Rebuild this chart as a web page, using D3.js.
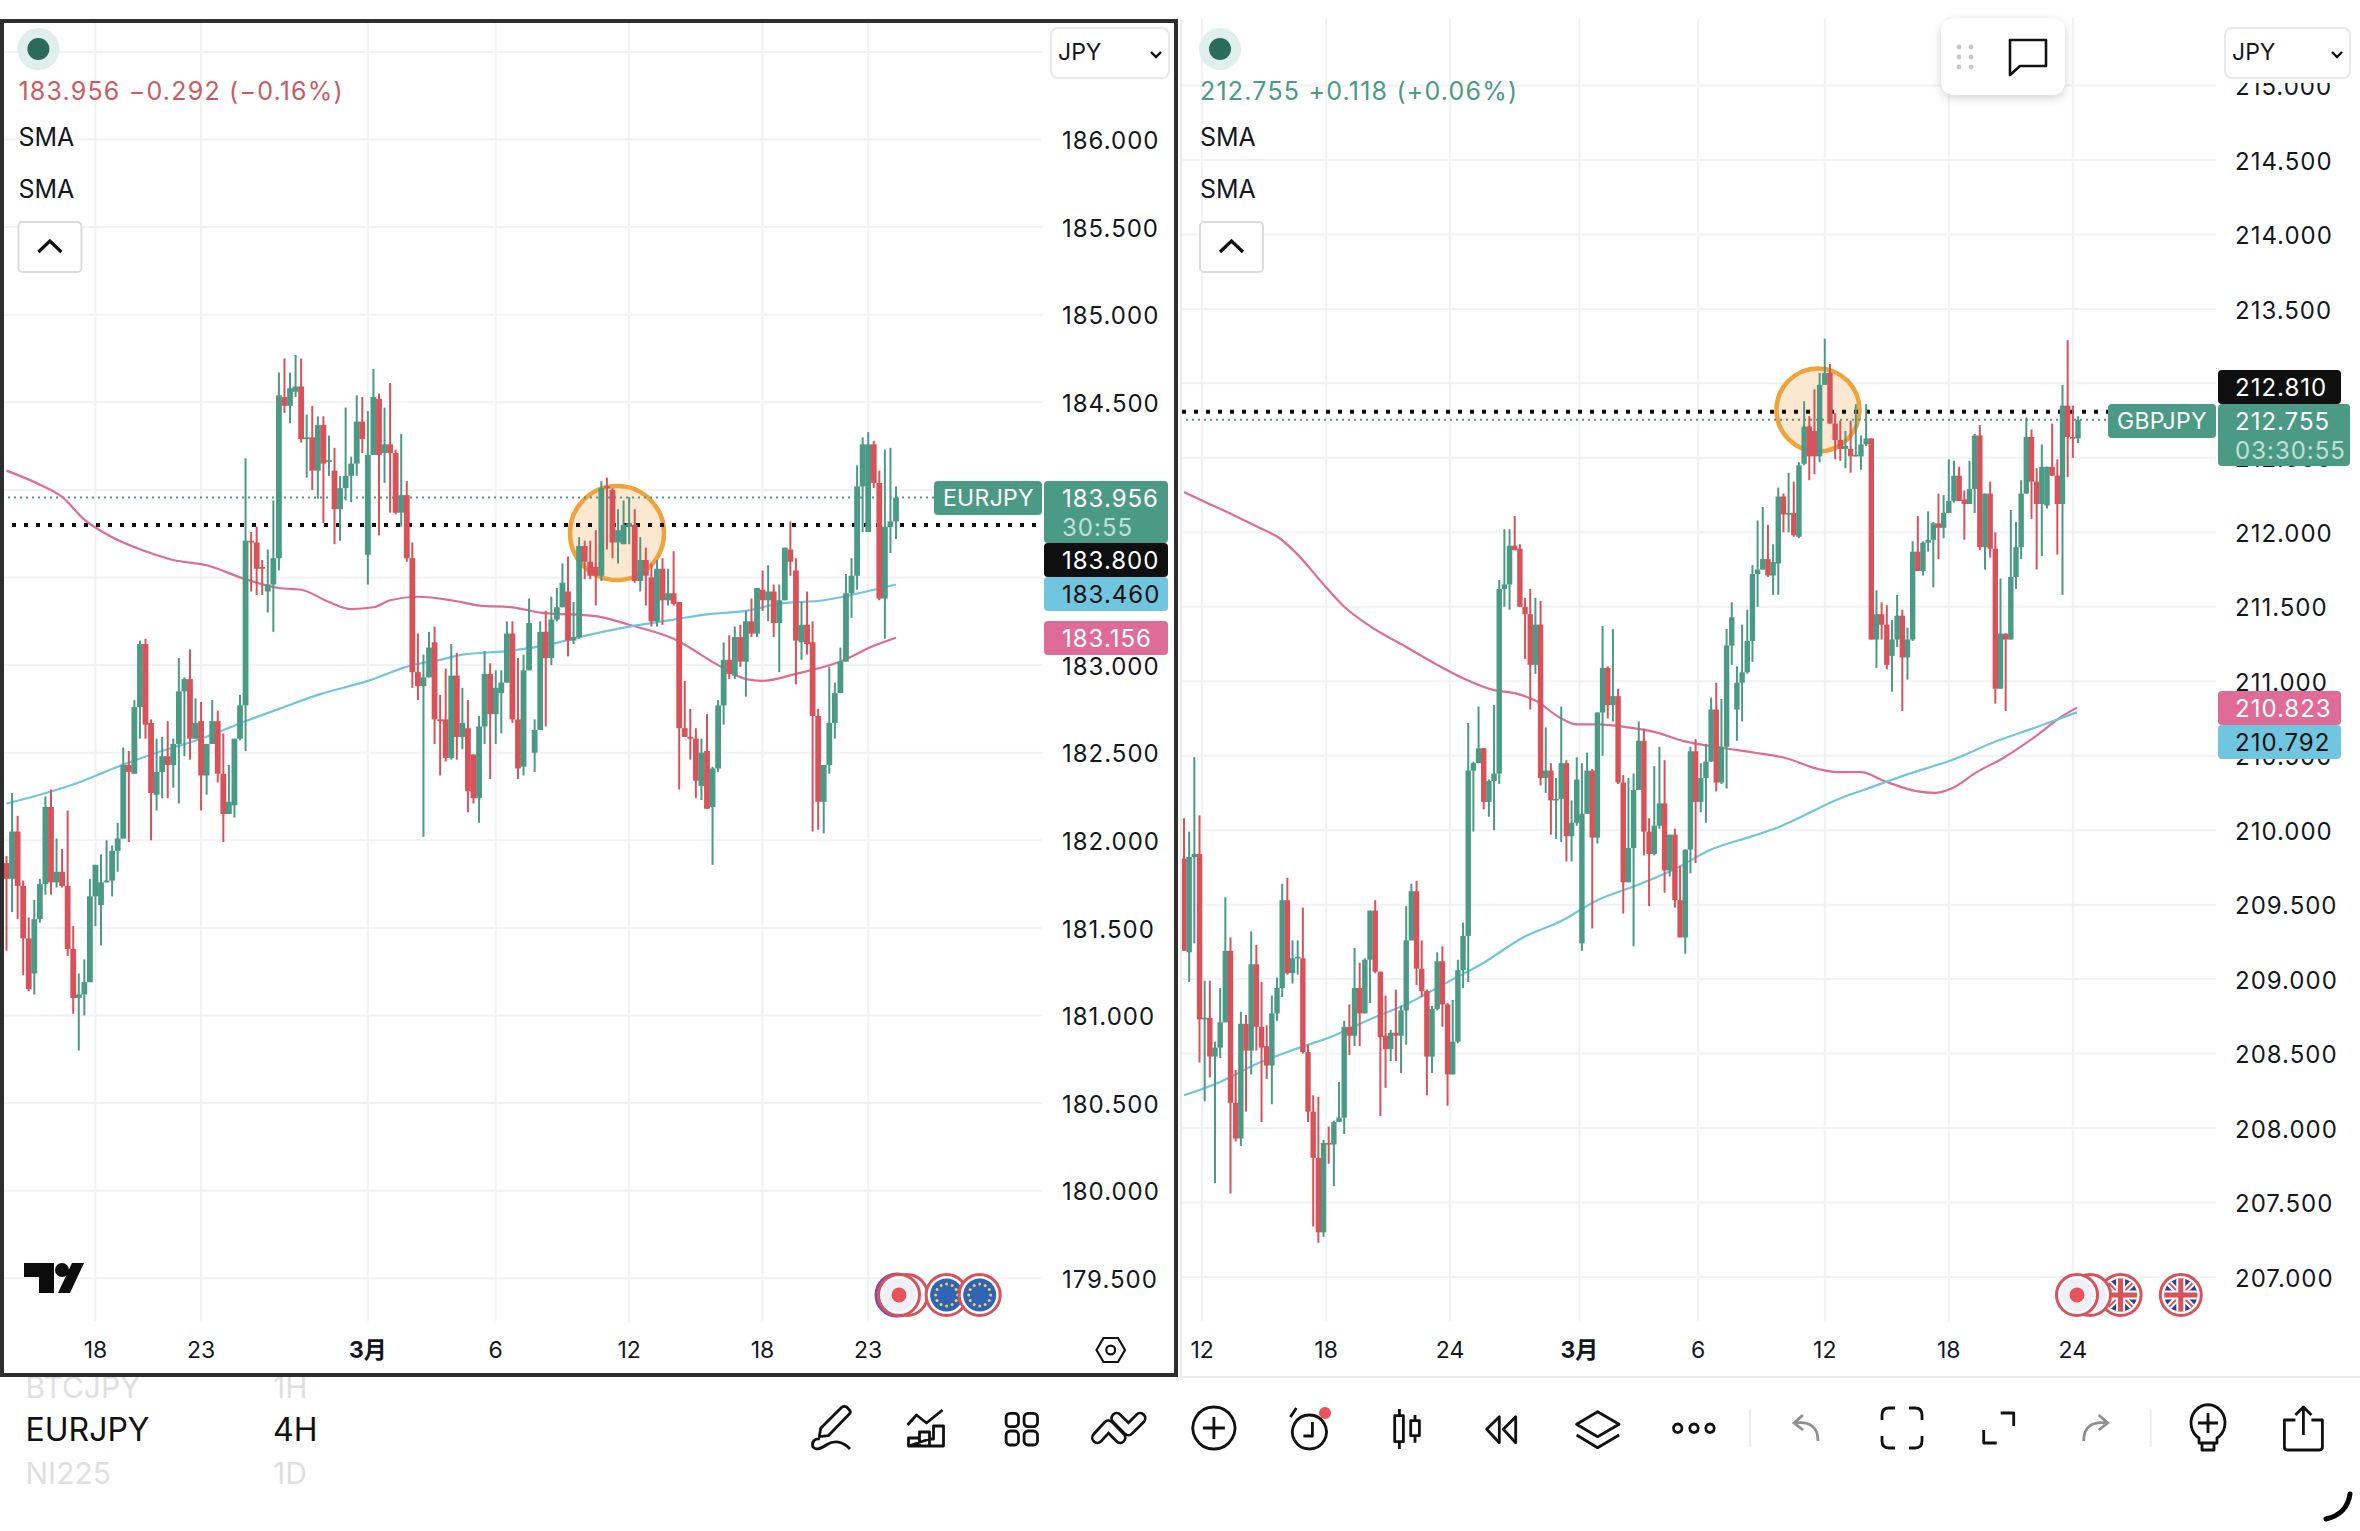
<!DOCTYPE html>
<html><head><meta charset="utf-8">
<script src="https://cdnjs.cloudflare.com/ajax/libs/d3/7.8.5/d3.min.js"></script>
<style>html,body{margin:0;padding:0;background:#fff}svg{display:block}text{font-family:Inter,"Noto Sans CJK JP",sans-serif}</style>
</head><body><svg id="c" width="2360" height="1531"></svg>
<script>
const eurOpen=[181.87,181.78,182.05,181.74,181.44,181.24,181.55,181.75,182.19,181.76,
181.82,181.74,181.38,181.10,181.12,181.19,181.68,181.63,181.76,181.77,
181.94,182.01,182.43,182.38,182.76,183.12,182.67,182.26,182.39,182.48,
182.43,182.55,182.85,182.92,182.58,182.68,182.37,182.55,182.68,182.38,
182.15,182.20,182.58,182.77,183.71,183.70,183.56,183.42,183.46,183.61,
184.53,184.48,184.56,184.59,184.29,184.30,184.11,184.37,184.16,184.11,
183.89,184.01,184.08,184.15,184.39,183.63,184.20,184.52,184.21,184.26,
184.21,183.87,183.97,183.61,182.96,182.88,182.93,183.13,182.69,182.69,
182.47,182.94,182.59,182.64,182.49,182.24,182.65,182.95,182.72,182.84,
182.90,183.18,182.69,182.42,182.97,182.50,182.63,183.19,183.04,183.26,
183.33,183.42,183.14,183.16,
183.68,183.59,183.56,183.51,184.02,184.00,183.70,183.69,183.79,183.80,
183.48,183.60,183.50,183.25,183.55,183.37,183.41,183.36,182.64,182.59,
182.58,182.31,182.51,182.19,182.41,182.77,183.03,182.94,183.16,183.02,
183.25,183.18,183.43,183.37,183.42,183.24,183.37,183.66,183.54,183.13,
183.23,183.13,182.71,182.22,182.43,182.67,182.84,183.02,183.41,183.51,
184.02,183.76,184.26,184.04,183.38,183.79,183.82];
const eurHigh=[181.91,182.27,182.14,181.77,181.56,181.66,181.78,182.25,182.29,182.01,
181.95,182.17,181.51,181.24,181.32,181.78,181.86,181.92,182.00,181.97,
182.10,182.53,182.51,182.80,183.14,183.15,182.69,182.58,182.59,182.68,
182.58,183.04,182.93,183.09,182.81,182.79,182.55,182.80,182.74,182.61,
182.43,182.58,182.83,184.18,183.76,183.79,183.60,183.66,183.94,184.67,
184.75,184.67,184.77,184.75,184.43,184.48,184.42,184.42,184.31,184.24,
184.08,184.47,184.19,184.54,184.53,184.45,184.69,184.55,184.47,184.61,
184.23,184.32,184.05,183.70,183.18,183.06,183.19,183.22,182.83,182.98,
183.12,183.07,182.87,182.80,182.49,182.71,183.08,183.01,182.97,182.97,
183.25,183.25,183.04,183.06,183.38,182.69,183.25,183.31,183.39,183.44,
183.58,183.62,183.36,183.73,
183.71,183.71,183.77,184.05,184.07,184.01,183.89,183.94,183.96,183.89,
183.73,183.67,183.58,183.60,183.61,183.55,183.65,183.36,182.91,182.75,
182.64,182.58,182.72,182.42,182.80,183.13,183.17,183.22,183.23,183.31,
183.38,183.44,183.54,183.57,183.46,183.46,183.67,183.82,183.61,183.36,
183.42,183.25,182.75,182.43,182.99,182.90,183.10,183.52,183.61,184.14,
184.30,184.33,184.28,184.11,184.23,184.24,184.02];
const eurLow=[181.37,181.59,181.55,181.23,181.14,181.12,181.53,181.69,181.69,181.73,
181.73,181.34,181.01,180.80,181.00,181.19,181.51,181.40,181.76,181.68,
181.82,182.01,181.99,182.38,182.58,182.58,182.00,182.17,182.24,182.24,
182.30,182.21,182.48,182.46,182.58,182.17,182.26,182.55,182.33,181.99,
182.15,182.13,182.57,182.51,183.42,183.40,183.40,183.30,183.19,183.54,
184.44,184.38,184.53,184.27,184.07,184.00,183.95,183.81,184.08,183.69,
183.71,183.94,183.93,184.08,184.21,183.46,184.20,183.74,184.04,183.87,
183.86,183.79,183.59,182.87,182.80,182.02,182.93,182.55,182.37,182.45,
182.46,182.46,182.52,182.16,182.21,182.10,182.55,182.35,182.55,182.61,
182.90,182.67,182.35,182.37,182.97,182.39,182.63,182.65,183.00,183.25,
183.33,183.05,183.12,183.15,
183.49,183.49,183.34,183.48,183.66,183.61,183.58,183.69,183.69,183.47,
183.42,183.34,183.22,183.22,183.23,183.34,183.34,182.29,182.59,182.46,
182.24,182.23,182.18,181.86,182.39,182.66,182.92,182.92,182.99,182.82,
183.16,183.16,183.31,183.25,183.16,182.96,183.37,183.51,182.89,183.03,
183.06,182.05,182.06,182.04,182.38,182.58,182.84,183.02,183.27,183.43,
183.76,183.76,184.01,183.37,183.15,183.64,183.72];
const eurClose=[181.78,182.05,181.74,181.44,181.15,181.55,181.75,182.19,181.76,181.82,
181.74,181.38,181.10,181.12,181.19,181.68,181.86,181.76,181.77,181.94,
182.01,182.43,182.39,182.76,183.12,182.66,182.27,182.39,182.48,182.43,
182.55,182.85,182.92,182.58,182.67,182.37,182.55,182.68,182.38,182.15,
182.22,182.58,182.77,183.71,183.70,183.55,183.55,183.46,183.61,184.54,
184.48,184.58,184.59,184.29,184.30,184.11,184.37,184.15,184.17,183.89,
184.01,184.08,184.15,184.39,184.29,184.20,184.53,184.20,184.26,184.21,
183.87,183.97,183.61,182.96,182.88,182.93,183.10,182.69,182.68,182.47,
182.94,182.59,182.67,182.28,182.24,182.65,182.95,182.72,182.87,182.90,
183.18,182.69,182.41,182.97,183.24,182.63,183.19,183.04,183.26,183.33,
183.47,183.14,183.16,183.68,
183.59,183.51,183.51,184.01,184.01,183.70,183.77,183.80,183.81,183.48,
183.60,183.51,183.25,183.55,183.37,183.41,183.35,182.64,182.59,182.58,
182.34,182.50,182.18,182.41,182.77,183.03,182.95,183.16,183.02,183.25,
183.18,183.44,183.37,183.42,183.24,183.37,183.67,183.59,183.14,183.23,
183.12,182.71,182.22,182.43,182.67,182.84,183.02,183.41,183.51,184.02,
184.26,184.26,184.04,183.38,183.79,183.82,183.956];
const eurPinkIdx=[0,6,10,14,19,25,30,36,43,49,53,58,62,66,69,74,80,85,91,96,106,112,120,128,133,136,142,150,156,160];
const eurPink=[184.11,184.03,183.96,183.83,183.73,183.65,183.60,183.57,183.49,183.44,183.43,183.36,183.32,183.33,183.37,183.39,183.37,183.34,183.33,183.30,183.28,183.23,183.15,183.00,182.92,182.91,182.95,183.02,183.11,183.156];
const eurBlueIdx=[0,6,13,20,27,35,43,49,56,65,73,78,82,90,98,103,112,120,126,133,139,147,156,160];
const eurBlue=[182.21,182.26,182.33,182.42,182.50,182.58,182.68,182.75,182.83,182.91,183.00,183.03,183.06,183.08,183.12,183.16,183.22,183.26,183.29,183.31,183.35,183.37,183.43,183.46];
const eurTickIdx=[16,35,65,88,112,136,155];
const eurTickLabels=["18","23","3月","6","12","18","23"];
const eurPriceTicks=[186,185.5,185,184.5,184,183.5,183,182.5,182,181.5,181,180.5,180,179.5];
const eurPriceLabels=[186,185.5,185,184.5,183,182.5,182,181.5,181,180.5,180,179.5];

const gbpOpen=[209.81,209.18,209.82,209.84,208.73,208.74,208.48,208.54,208.71,209.19,
208.17,207.93,208.70,208.52,209.10,208.68,208.55,208.42,208.77,208.94,
209.53,209.04,209.14,209.14,208.51,208.11,207.80,207.30,207.90,207.89,
208.04,208.07,208.68,208.62,208.94,208.77,209.13,209.46,209.05,208.62,
208.53,208.64,208.62,208.79,209.26,209.59,209.07,208.92,208.48,208.80,
209.12,208.83,208.36,208.58,209.06,209.29,210.40,210.45,210.55,210.19,
210.33,210.38,211.62,211.65,211.91,211.89,211.50,211.45,211.11,211.38,
210.35,210.40,210.20,210.21,210.45,209.96,210.05,209.24,210.11,210.40,
209.95,210.79,211.09,210.84,210.90,210.32,209.65,209.88,210.27,210.60,
209.99,209.84,210.03,210.18,209.73,209.97,209.53,209.28,209.87,210.53,
210.19,210.35,210.46,210.81,210.32,210.56,211.24,210.81,210.99,211.06,
211.27,211.72,211.75,211.82,211.71,211.79,212.24,212.12,212.13,211.97,
212.46,212.71,212.68,212.51,212.99,213.07,212.73,212.62,212.56,212.56,
212.51,212.51,212.59,212.63,211.28,211.45,211.38,211.17,211.28,211.44,
211.16,211.28,211.87,211.74,211.93,211.95,212.06,212.03,212.13,212.21,
212.38,212.22,212.19,212.29,212.65,211.90,212.26,211.89,210.95,211.32,
211.28,211.70,211.90,212.26,212.64,212.34,212.19,212.18,212.44,212.38,
212.19,212.85,212.64,212.63];
const gbpHigh=[210.08,209.99,210.49,210.10,208.99,208.99,208.58,208.94,209.55,209.28,
208.39,208.78,208.76,209.32,209.23,208.98,208.69,208.89,209.01,209.64,
209.68,209.26,209.26,209.48,208.56,208.22,208.21,207.92,208.01,208.05,
208.31,208.72,208.83,209.21,209.11,209.14,209.46,209.53,209.05,208.89,
208.66,208.93,208.82,209.49,209.64,209.66,209.26,208.93,208.82,209.18,
209.22,208.84,208.86,209.13,209.38,210.72,210.46,210.83,210.55,210.34,
210.84,211.68,212.02,212.02,212.11,211.92,211.56,211.62,211.56,211.54,
210.69,210.45,210.35,210.83,210.47,210.20,210.49,210.45,210.52,210.41,
210.79,211.37,211.10,211.35,210.95,210.37,210.35,210.38,210.73,210.68,
210.08,210.43,210.56,210.47,209.97,210.01,209.76,209.87,210.56,210.61,
210.45,210.58,210.89,210.99,210.88,211.35,211.53,211.10,211.38,211.48,
211.78,212.08,212.17,212.05,211.92,212.30,212.26,212.40,212.34,212.47,
212.88,212.78,212.96,213.07,213.30,213.13,212.80,212.75,212.68,212.75,
212.86,212.65,212.86,212.63,211.61,211.53,211.51,211.41,211.58,211.48,
211.36,211.94,212.11,211.94,212.14,212.07,212.26,212.25,212.49,212.48,
212.44,212.28,212.48,212.66,212.72,212.26,212.34,212.00,211.69,211.32,
212.15,212.07,212.35,212.77,212.69,212.43,212.59,212.44,212.73,212.49,
212.99,213.29,212.85,212.78];
const gbpLow=[209.19,208.98,209.24,208.44,208.18,208.34,207.63,208.47,208.71,207.56,
207.91,207.88,208.11,208.36,208.52,208.04,208.33,208.16,208.72,208.88,
209.03,208.97,209.03,208.50,208.04,207.34,207.23,207.27,207.76,207.61,
208.04,207.96,208.49,208.55,208.55,208.77,208.84,209.04,208.08,208.27,
208.45,208.45,208.37,208.56,209.26,208.96,208.88,208.22,208.37,208.79,
208.68,208.15,208.36,208.57,208.94,208.98,209.99,210.45,210.14,210.09,
210.00,210.31,211.50,211.48,211.88,211.50,211.15,210.81,211.05,210.30,
210.25,209.97,209.94,209.92,209.79,209.79,210.03,209.19,210.11,209.34,
209.91,210.50,210.75,210.73,210.31,209.44,209.65,209.22,210.27,209.83,
209.49,209.83,210.01,209.58,209.69,209.48,209.28,209.17,209.71,209.78,
210.12,210.05,210.46,210.26,210.31,210.28,211.11,210.60,210.73,211.05,
211.13,211.50,211.75,211.70,211.58,211.58,212.00,212.00,211.97,211.96,
212.45,212.35,212.39,212.47,212.99,212.73,212.49,212.48,212.43,212.40,
212.51,212.42,212.58,211.28,211.09,211.28,211.08,210.93,211.23,210.80,
211.01,211.27,211.74,211.71,211.87,211.63,211.82,211.96,212.13,212.20,
212.21,211.95,212.19,212.13,211.88,211.75,211.83,210.85,210.95,210.80,
211.28,211.62,211.82,212.26,212.09,211.75,211.84,212.16,212.38,211.85,
211.58,212.37,212.50,212.60];
const gbpClose=[209.19,209.82,209.84,208.73,208.74,208.48,208.54,208.71,209.19,208.17,
207.93,208.70,208.52,209.10,208.68,208.54,208.42,208.77,208.94,209.53,
209.04,209.14,209.15,208.51,208.11,207.80,207.30,207.90,207.89,208.04,
208.07,208.68,208.62,208.94,208.77,209.13,209.46,209.05,208.61,208.53,
208.64,208.62,208.79,209.26,209.59,209.07,208.92,208.48,208.80,209.12,
208.83,208.36,208.58,209.06,209.29,210.40,210.45,210.55,210.19,210.33,
210.38,211.62,211.65,211.91,211.88,211.50,211.45,211.11,211.38,210.35,
210.40,210.20,210.21,210.45,209.96,210.05,210.34,210.11,210.40,209.95,
210.79,211.09,210.84,210.90,210.32,209.65,209.88,210.27,210.60,209.99,
209.84,210.03,210.18,209.73,209.97,209.53,209.28,209.87,210.53,210.19,
210.35,210.46,210.81,210.32,210.56,211.24,211.43,210.99,211.06,211.27,
211.72,211.75,211.82,211.71,211.80,212.24,212.12,212.13,211.98,212.45,
212.71,212.51,212.51,212.99,213.07,212.73,212.62,212.56,212.58,212.51,
212.52,212.59,212.63,211.28,211.45,211.38,211.11,211.28,211.44,211.16,
211.28,211.87,211.74,211.93,211.95,212.06,212.03,212.13,212.21,212.38,
212.21,212.19,212.29,212.65,211.90,212.26,211.89,210.95,211.32,211.28,
211.70,211.90,212.26,212.64,212.34,212.19,212.44,212.44,212.38,212.19,
212.85,212.64,212.63,212.755];
const gbpPinkIdx=[0,3,7.5,14,18.5,22,27,31,36,43.5,49,54,60,64,68,73,76,80,86,91,96.5,104.7,110.4,116.9,121.7,126.6,131,135.5,142,145.3,148.5,153.4,158.3,164.8,169.7,172.8];
const gbpPink=[212.27,212.22,212.15,212.04,211.96,211.85,211.65,211.50,211.37,211.22,211.11,211.02,210.94,210.92,210.87,210.75,210.71,210.71,210.69,210.66,210.60,210.55,210.52,210.48,210.42,210.39,210.39,210.33,210.26,210.25,210.28,210.39,210.48,210.63,210.76,210.823];
const gbpBlueIdx=[0,7,14,21.5,29,36,43.5,51,58,65.6,73,80,87.6,95,102,110,115,127.4,131.5,140.4,148.5,156.7,164.8,172.8];
const gbpBlue=[208.22,208.31,208.43,208.53,208.62,208.73,208.84,208.98,209.11,209.28,209.39,209.53,209.63,209.74,209.87,209.96,210.02,210.22,210.27,210.38,210.47,210.59,210.69,210.792];
const gbpTickIdx=[3.5,27.5,51.5,76.5,99.5,124,148,172];
const gbpTickLabels=["12","18","24","3月","6","12","18","24"];
const gbpPriceTicks=[215,214.5,214,213.5,213,212.5,212,211.5,211,210.5,210,209.5,209,208.5,208,207.5,207];
const gbpPriceLabels=gbpPriceTicks;

const GREEN="#4b9a85",RED="#d9525a",PINK="#df6c96",BLUE="#70c6de",BLACK="#0f0f0f",TXT="#131722",GRID="#f2f2f4";
const svg=d3.select("#c");
svg.append("defs").html('<filter id="sh" x="-20%" y="-20%" width="140%" height="150%"><feDropShadow dx="0" dy="3" stdDeviation="5" flood-color="#000" flood-opacity=".18"/></filter>');

function panel(p){
  const g=svg.append("g");
  const n=p.open.length;
  const x=d3.scaleLinear().domain([0,n-1]).range(p.xr);
  const y=d3.scaleLinear().domain(p.yd).range(p.yr);
  g.selectAll(".h").data(p.priceTicks).join("line").attr("x1",p.gx0).attr("x2",p.gx1).attr("y1",d=>y(d)).attr("y2",d=>y(d)).attr("stroke",GRID).attr("stroke-width",2);
  g.selectAll(".v").data(p.tickIdx).join("line").attr("x1",d=>x(d)).attr("x2",d=>x(d)).attr("y1",p.gy0).attr("y2",1321).attr("stroke",GRID).attr("stroke-width",2);
  // highlight circle under the candles
  g.append("circle").attr("cx",p.circ[0]).attr("cy",p.circ[1]).attr("r",p.circ[2]).attr("fill","#fce8d0").attr("stroke","#efa33a").attr("stroke-width",4.5);
  // level lines under the candles
  g.append("line").attr("x1",p.gx0+4).attr("x2",p.flagX).attr("y1",y(p.last)).attr("y2",y(p.last)).attr("stroke",GREEN).attr("stroke-width",2).attr("stroke-dasharray","2 4");
  g.append("line").attr("x1",p.dotX0).attr("x2",p.dotX1).attr("y1",y(p.level)).attr("y2",y(p.level)).attr("stroke",BLACK).attr("stroke-width",4).attr("stroke-dasharray","4 8");
  // SMA
  const ln=d3.line().x(d=>x(d[0])).y(d=>y(d[1])).curve(d3.curveMonotoneX);
  g.append("path").attr("d",ln(d3.zip(p.pinkIdx,p.pink))).attr("fill","none").attr("stroke",PINK).attr("stroke-width",2.2);
  g.append("path").attr("d",ln(d3.zip(p.blueIdx,p.blue))).attr("fill","none").attr("stroke",BLUE).attr("stroke-width",2.2);
  // candles
  const idx=d3.range(n);
  const col=i=>p.close[i]>=p.open[i]?GREEN:RED;
  g.append("g").selectAll("line").data(idx).join("line").attr("x1",i=>x(i)).attr("x2",i=>x(i))
    .attr("y1",i=>y(Math.max(p.high[i],p.open[i],p.close[i]))).attr("y2",i=>y(Math.min(p.low[i],p.open[i],p.close[i])))
    .attr("stroke",col).attr("stroke-width",2);
  g.append("g").selectAll("rect").data(idx).join("rect").attr("x",i=>x(i)-p.bw/2).attr("width",p.bw)
    .attr("y",i=>y(Math.max(p.open[i],p.close[i])))
    .attr("height",i=>Math.max(1.6,Math.abs(y(p.open[i])-y(p.close[i])))).attr("fill",col);
  // price labels
  g.selectAll(".pl").data(p.priceLabels).join("text").attr("x",p.labelX).attr("y",d=>y(d)+1).attr("dy",".36em")
    .attr("font-size",24).attr("letter-spacing",1).attr("fill",TXT).text(d=>d.toFixed(3));
  // time labels
  g.selectAll(".tl").data(p.tickIdx).join("text").attr("x",d=>x(d)).attr("y",1350).attr("dy",".36em").attr("text-anchor","middle")
    .attr("font-size",23).attr("fill",TXT).attr("font-weight",(d,i)=>p.tickLabels[i]=="3月"?700:400).text((d,i)=>p.tickLabels[i]);
  // stamps
  const stamp=(sx,sy,hh,fill,txt,tc,sub)=>{
    g.append("rect").attr("x",p.blockX).attr("y",sy).attr("width",sx).attr("height",hh).attr("rx",4).attr("fill",fill);
    g.append("text").attr("x",p.labelX).attr("y",sy+17.5).attr("dy",".36em").attr("font-size",24).attr("letter-spacing",1).attr("fill",tc).text(txt);
    if(sub) g.append("text").attr("x",p.labelX).attr("y",sy+46).attr("dy",".36em").attr("font-size",24).attr("letter-spacing",1).attr("fill","#bfe0d6").text(sub);
  };
  p.stamps.forEach(s=>stamp(...s));
  g.append("rect").attr("x",p.flagX).attr("y",p.flagY).attr("width",p.blockX-p.flagX-2).attr("height",34).attr("rx",4).attr("fill",GREEN);
  g.append("text").attr("x",p.flagX+9).attr("y",p.flagY+17).attr("dy",".36em").attr("font-size",23).attr("letter-spacing",.3).attr("fill","#fff").text(p.name);
  // header
  const hx=p.hx;
  g.append("circle").attr("cx",hx+20).attr("cy",49).attr("r",21).attr("fill","#dfefec");
  g.append("circle").attr("cx",hx+20).attr("cy",49).attr("r",11).attr("fill","#2b6b5a");
  g.append("text").attr("x",hx).attr("y",91).attr("dy",".36em").attr("font-size",25).attr("letter-spacing",1.2).attr("fill",p.headColor).text(p.head);
  [137,189].forEach(yy=>g.append("text").attr("x",hx).attr("y",yy).attr("dy",".36em").attr("font-size",25).attr("fill",TXT).text("SMA"));
  g.append("rect").attr("x",hx).attr("y",222).attr("width",63).attr("height",50).attr("rx",4).attr("fill","#fff").attr("stroke","#dcdcdc").attr("stroke-width",2);
  g.append("path").attr("d",`M${hx+20},252 L${hx+31.5},241 L${hx+43},252`).attr("fill","none").attr("stroke","#111").attr("stroke-width",3.2);
  // JPY box
  g.append("rect").attr("x",p.jpyX).attr("y",0).attr("width",p.jpyW+12).attr("height",p.jpyClip).attr("fill","#fff");
  g.append("rect").attr("x",p.jpyX).attr("y",28).attr("width",p.jpyW).attr("height",50).attr("rx",7).attr("fill","#fff").attr("stroke","#e9e9e9").attr("stroke-width",2);
  g.append("text").attr("x",p.jpyX+7).attr("y",52).attr("dy",".36em").attr("font-size",23).attr("fill",TXT).text("JPY");
  g.append("path").attr("d",`M${p.jpyX+p.jpyW-18},52 l5,5 l5,-5`).attr("fill","none").attr("stroke","#111").attr("stroke-width",2.4);
}

panel({open:gbpOpen,high:gbpHigh,low:gbpLow,close:gbpClose,pinkIdx:gbpPinkIdx,pink:gbpPink,blueIdx:gbpBlueIdx,blue:gbpBlue,
  tickIdx:gbpTickIdx,tickLabels:gbpTickLabels,priceTicks:gbpPriceTicks,priceLabels:gbpPriceLabels,bw:5.4,
  xr:[1184,2078],yd:[212,207],yr:[532.3,1277],gx0:1182,gx1:2216,gy0:18,flagX:2108,flagY:404,blockX:2218,labelX:2235,
  last:212.755,level:212.81,dotX0:1182,dotX1:2108,circ:[1818,410,41.5],name:"GBPJPY",
  stamps:[[123,370,34,BLACK,"212.810","#fff"],[132,404,62,GREEN,"212.755","#fff","03:30:55"],[123,691,34,PINK,"210.823","#fff"],[123,725,34,BLUE,"210.792","#111"]],
  hx:1200,head:"212.755  +0.118 (+0.06%)",headColor:GREEN,jpyX:2225,jpyW:125,jpyClip:83});

panel({open:eurOpen,high:eurHigh,low:eurLow,close:eurClose,pinkIdx:eurPinkIdx,pink:eurPink,blueIdx:eurBlueIdx,blue:eurBlue,
  tickIdx:eurTickIdx,tickLabels:eurTickLabels,priceTicks:[186.5].concat(eurPriceTicks),priceLabels:eurPriceLabels,bw:5.8,
  xr:[6.5,896],yd:[186,179.5],yr:[139.5,1278.3],gx0:4,gx1:1042,gy0:23,flagX:934,flagY:481,blockX:1044,labelX:1062,
  last:183.956,level:183.8,dotX0:12,dotX1:1040,circ:[617,533,47],name:"EURJPY",
  stamps:[[124,481,62,GREEN,"183.956","#fff","30:55"],[124,543,34,BLACK,"183.800","#fff"],[124,577,34,BLUE,"183.460","#111"],[124,621,34,PINK,"183.156","#fff"]],
  hx:18.4,head:"183.956  −0.292 (−0.16%)",headColor:"#cd5a5f",jpyX:1051,jpyW:118,jpyClip:26});

// floating toolbar
svg.append("rect").attr("x",1941).attr("y",18).attr("width",124).attr("height",77).attr("rx",13).attr("fill","#fff").attr("filter","url(#sh)");
[1959,1971].forEach(cx=>[47,57,67].forEach(cy=>svg.append("circle").attr("cx",cx).attr("cy",cy).attr("r",2.4).attr("fill","#c6c6c6")));
svg.append("path").attr("d","M2010,40 H2046 V66 H2020 L2010,75 Z").attr("fill","none").attr("stroke","#111").attr("stroke-width",2.6).attr("stroke-linejoin","round");

// bottom rows
const symRows=[["BTCJPY","1H",1387,"#dfdfdf",30],["EURJPY","4H",1429,"#111",32],["NI225","1D",1473,"#dfdfdf",30]];
symRows.forEach(r=>{
  svg.append("text").attr("x",25.5).attr("y",r[2]).attr("dy",".36em").attr("font-size",r[4]).attr("fill",r[3]).text(r[0]);
  svg.append("text").attr("x",273).attr("y",r[2]).attr("dy",".36em").attr("font-size",r[4]).attr("fill",r[3]).text(r[1]);
});
// frames
svg.append("rect").attr("x",2).attr("y",21).attr("width",1174).attr("height",1354).attr("fill","none").attr("stroke","#2e2e2e").attr("stroke-width",4);
svg.append("line").attr("x1",1180).attr("x2",2360).attr("y1",1377).attr("y2",1377).attr("stroke","#ececec").attr("stroke-width",2);
svg.append("line").attr("x1",1181).attr("x2",1181).attr("y1",18).attr("y2",1377).attr("stroke","#ececec").attr("stroke-width",2);

// TradingView logo
svg.append("path").attr("d","M24,1263 H54 V1293 H39 V1277 H24 Z M58,1293 L72,1263 H84 L70,1293 Z").attr("fill","#0c0c0c");
svg.append("circle").attr("cx",62).attr("cy",1270).attr("r",7).attr("fill","#0c0c0c");
// settings hexagon
svg.append("path").attr("d","M1096.5,1350 L1103.5,1338 H1118 L1125,1350 L1118,1362 H1103.5 Z").attr("fill","none").attr("stroke","#111").attr("stroke-width",2.2);
svg.append("circle").attr("cx",1110.7).attr("cy",1350).attr("r",4.4).attr("fill","none").attr("stroke","#111").attr("stroke-width",2.2);

// event bubbles
function ring(g,cx,r){g.append("circle").attr("cx",cx).attr("cy",1295).attr("r",r).attr("fill","#fff").attr("stroke",RED).attr("stroke-width",3);}
let clipN=0;
function jp(cx){const g=svg.append("g");ring(g,cx,20.5);g.append("circle").attr("cx",cx).attr("cy",1295).attr("r",16.5).attr("fill","#eef0f7");g.append("circle").attr("cx",cx).attr("cy",1295).attr("r",7.5).attr("fill","#e8535c");}
function eu(cx){const g=svg.append("g");ring(g,cx,20.5);g.append("circle").attr("cx",cx).attr("cy",1295).attr("r",16.5).attr("fill","#2f63b5");
  d3.range(12).forEach(k=>g.append("circle").attr("cx",cx+11*Math.cos(k*Math.PI/6)).attr("cy",1295+11*Math.sin(k*Math.PI/6)).attr("r",1.5).attr("fill","#f1d44a"));}
function uk(cx){const g=svg.append("g");ring(g,cx,20.5);const id="cp"+(clipN++);
  g.append("clipPath").attr("id",id).append("circle").attr("cx",cx).attr("cy",1295).attr("r",16.5);
  const f=g.append("g").attr("clip-path",`url(#${id})`);
  f.append("rect").attr("x",cx-17).attr("y",1278).attr("width",34).attr("height",34).attr("fill","#2c3f8f");
  f.append("path").attr("d",`M${cx-17},1278 L${cx+17},1312 M${cx+17},1278 L${cx-17},1312`).attr("stroke","#fff").attr("stroke-width",6);
  f.append("path").attr("d",`M${cx-17},1278 L${cx+17},1312 M${cx+17},1278 L${cx-17},1312`).attr("stroke","#d9525a").attr("stroke-width",2);
  f.append("path").attr("d",`M${cx},1278 V1312 M${cx-17},1295 H${cx+17}`).attr("stroke","#fff").attr("stroke-width",9);
  f.append("path").attr("d",`M${cx},1278 V1312 M${cx-17},1295 H${cx+17}`).attr("stroke","#d9525a").attr("stroke-width",5);}
svg.append("circle").attr("cx",897).attr("cy",1295).attr("r",21).attr("fill","#fff").attr("stroke","#7a4fb0").attr("stroke-width",3);
jp(907);eu(946.6);eu(979.7);jp(899);
uk(2120.6);jp(2090);uk(2180.8);jp(2077);

// toolbar icons
const icons=[
 [830,'M-9.3,0.3 L11.7,-20.7 Q14,-22.5 16.7,-21 L19,-18.5 Q21,-16.5 20,-14.7 L-1.7,7.7 L-10.7,8.7 Z M-10,11 C-15,10 -19,14 -17,19 C-14,23 -8,20 -3,16.5 C4,12 13,13 20,21'],
 [925.5,'M-18,-3 L-9,-13 L1,-5 L17,-18 M-17,18 V10 H-6 V4 H4 V18 M4,11 H8 V-2 H18 V18 H-17 Z M-6,10 V18'],
 [1021.8,'M-11.7,-14.7 h4.4 a4,4 0 0 1 4,4 v5.4 a4,4 0 0 1 -4,4 h-4.4 a4,4 0 0 1 -4,-4 v-5.4 a4,4 0 0 1 4,-4 Z M6.3,-14.7 h5.4 a4,4 0 0 1 4,4 v5.4 a4,4 0 0 1 -4,4 h-5.4 a4,4 0 0 1 -4,-4 v-5.4 a4,4 0 0 1 4,-4 Z M-11.7,3 h4.4 a4,4 0 0 1 4,4 v6 a4,4 0 0 1 -4,4 h-4.4 a4,4 0 0 1 -4,-4 v-6 a4,4 0 0 1 4,-4 Z M6.3,3 h5.4 a4,4 0 0 1 4,4 v6 a4,4 0 0 1 -4,4 h-5.4 a4,4 0 0 1 -4,-4 v-6 a4,4 0 0 1 4,-4 Z'],
 [1213.9,'M0,-21 a21,21 0 1 0 0.01,0 Z M-11,0 H11 M0,-11 V11'],
 [1309.4,'M0,-13 a17,17 0 1 0 0.01,0 Z M3,-6 V8 H-6 M-13,-20 L-19,-11'],
 [1405.7,'M-6.3,-19 V-12.3 M-6.3,13.7 V21 M-11,-12.3 H-2.3 V13.7 H-11 Z M9.3,-13 V-7.3 M9.3,7.7 V14.7 M5,-7.3 H13.7 V7.7 H5 Z'],
 [1502,'M-15.3,1.3 L-2.7,-11.3 V14.7 Z M1.3,1.3 L13.7,-11.3 V14.7 Z'],
 [1597.6,'M0,-16.3 L21.5,-3.7 L0,8.7 L-21,-3.7 Z M-21,7 L0,19.7 L21.5,7'],
 [1694,'M-16.3,-4 a4.3,4.3 0 1 0 0.01,0 Z M0,-4 a4.3,4.3 0 1 0 0.01,0 Z M16,-4 a4.3,4.3 0 1 0 0.01,0 Z'],
 [1902,'M-20,-8 V-13 Q-20,-20 -13,-20 H-7 M7,-20 H13 Q20,-20 20,-13 V-8 M20,8 V13 Q20,20 13,20 H7 M-7,20 H-13 Q-20,20 -20,13 V8'],
 [1998.7,'M2,-15 H15 V-2 M-2,15 H-15 V2'],
 [2208,'M-9,10 A17,18 0 1 1 9,10 V15 H-9 Z M-6,15 V22 H6 V15 M-10,-5 H10 M0,-15 V5'],
 [2303.4,'M-8,-8 H-19 V19 Q-19,22 -16,22 H16 Q19,22 19,19 V-8 H8 M0,-21 V7 M-8,-13 L0,-21 L8,-13']
];
svg.append("g").selectAll("path").data(icons).join("path").attr("transform",d=>`translate(${d[0]},1428)`).attr("d",d=>d[1]).attr("fill","none").attr("stroke","#111").attr("stroke-width",2.8).attr("stroke-linejoin","round");
// ribbon icon: outlined bands
const ribbon='M-20,9.7 L-9,-2.3 L2.7,9.7 M-0.7,-9.7 L11,2 L22.7,-9.7';
[["#111",13],["#fff",7.5]].forEach(s=>svg.append("path").attr("transform","translate(1117.4,1428)").attr("d",ribbon).attr("fill","none").attr("stroke",s[0]).attr("stroke-width",s[1]).attr("stroke-linecap","round").attr("stroke-linejoin","round"));
svg.append("circle").attr("cx",1325).attr("cy",1413).attr("r",6).attr("fill","#e8535c");
const greyIcons=[[1806,'M-3,-15 L-12,-7 L-3,0 M-11,-7 C4,-9 12,-3 12,11'],[2095.7,'M3,-15 L12,-7 L3,0 M11,-7 C-4,-9 -12,-3 -12,11']];
svg.append("g").selectAll("path").data(greyIcons).join("path").attr("transform",d=>`translate(${d[0]},1430)`).attr("d",d=>d[1]).attr("fill","none").attr("stroke","#8f8f8f").attr("stroke-width",2.8);
[1750,2150.7].forEach(sx=>svg.append("line").attr("x1",sx).attr("x2",sx).attr("y1",1410).attr("y2",1447).attr("stroke","#ededed").attr("stroke-width",2));
svg.append("path").attr("d","M2350,1494 C2348,1508 2339,1516 2326,1519").attr("fill","none").attr("stroke","#000").attr("stroke-width",5).attr("stroke-linecap","round");
</script></body></html>
